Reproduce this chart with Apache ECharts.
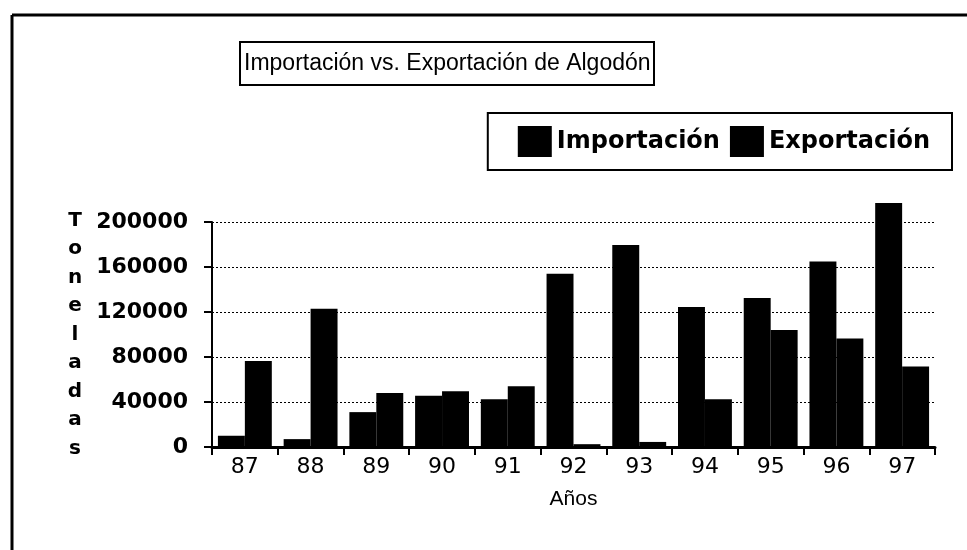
<!DOCTYPE html>
<html>
<head>
<meta charset="utf-8">
<script src="https://cdn.jsdelivr.net/npm/echarts@6/dist/echarts.min.js"></script>
<style>
  html, body { margin: 0; padding: 0; background: #fff; }
  #chart { width: 967px; height: 550px; }
</style>
</head>
<body>
<div id="chart"></div>
<script>
// datos (toneladas)
const years = ['87', '88', '89', '90', '91', '92', '93', '94', '95', '96', '97']
const importacion = [10000, 7000, 31000, 45500, 42500, 154000, 179500, 124500, 132500, 165000, 217000]
const exportacion = [76500, 123000, 48000, 49500, 54000, 2500, 4500, 42500, 104000, 96500, 71500]
const yTicks = [0, 40000, 80000, 120000, 160000, 200000]

const chart = echarts.init(document.getElementById('chart'))

chart.setOption({
  backgroundColor: '#fff',
  animation: false,
  title: {
    text: 'Importación vs. Exportación de Algodón',
    left: 240,
    top: 42,
    padding: [10, 4, 10, 4],
    borderColor: '#000',
    borderWidth: 2,
    textStyle: {
      fontFamily: 'Liberation Sans',
      fontSize: 23,
      fontWeight: 'normal',
      color: '#000'
    }
  },
  legend: {
    data: ['Importación', 'Exportación'],
    right: 15,
    top: 113,
    padding: [13, 22, 13, 30],
    borderColor: '#000',
    borderWidth: 2,
    itemWidth: 34,
    itemHeight: 31,
    itemGap: 10,
    icon: 'rect',
    textStyle: {
      fontFamily: 'DejaVu Sans',
      fontSize: 24,
      fontWeight: 'bold',
      color: '#000'
    }
  },
  grid: {
    left: 212,
    right: 32,
    top: 222,
    bottom: 103
  },
  xAxis: {
    type: 'category',
    data: years,
    name: 'Años',
    nameLocation: 'middle',
    nameGap: 42,
    nameTextStyle: {
      fontFamily: 'Liberation Sans',
      fontSize: 21,
      color: '#000'
    },
    axisLine: { lineStyle: { color: '#000', width: 3 } },
    axisTick: { show: true, length: 8, lineStyle: { color: '#000', width: 2 } },
    axisLabel: {
      margin: 9,
      fontFamily: 'DejaVu Sans',
      fontSize: 22,
      color: '#000'
    }
  },
  yAxis: {
    type: 'value',
    min: 0,
    max: 200000,
    interval: 40000,
    name: 'Toneladas'.split('').join('\n'),
    nameLocation: 'middle',
    nameRotate: 0,
    nameGap: 137,
    nameTextStyle: {
      fontFamily: 'DejaVu Sans',
      fontSize: 20,
      fontWeight: 'bold',
      color: '#000',
      lineHeight: 28.5,
      align: 'center',
      verticalAlign: 'middle'
    },
    axisLine: { show: true, lineStyle: { color: '#000', width: 2 } },
    axisTick: { show: true, length: 8, lineStyle: { color: '#000', width: 2 } },
    axisLabel: {
      margin: 24,
      fontFamily: 'DejaVu Sans',
      fontSize: 22,
      fontWeight: 'bold',
      color: '#000',
      customValues: yTicks,
      formatter: function (v) { return String(v) }
    },
    splitLine: {
      show: true,
      lineStyle: { color: '#000', width: 1, type: [2, 2] }
    }
  },
  series: [{
    name: 'Importación',
    type: 'bar',
    data: importacion,
    clip: false,
    barGap: '0%',
    barCategoryGap: '18%',
    itemStyle: { color: '#000' }
  }, {
    name: 'Exportación',
    type: 'bar',
    data: exportacion,
    clip: false,
    itemStyle: { color: '#000' }
  }],
  graphic: [{
    type: 'line',
    shape: { x1: 12, y1: 15, x2: 967, y2: 15 },
    style: { stroke: '#000', lineWidth: 3 }
  }, {
    type: 'line',
    shape: { x1: 12, y1: 15, x2: 12, y2: 550 },
    style: { stroke: '#000', lineWidth: 3 }
  }]
})
</script>
</body>
</html>
